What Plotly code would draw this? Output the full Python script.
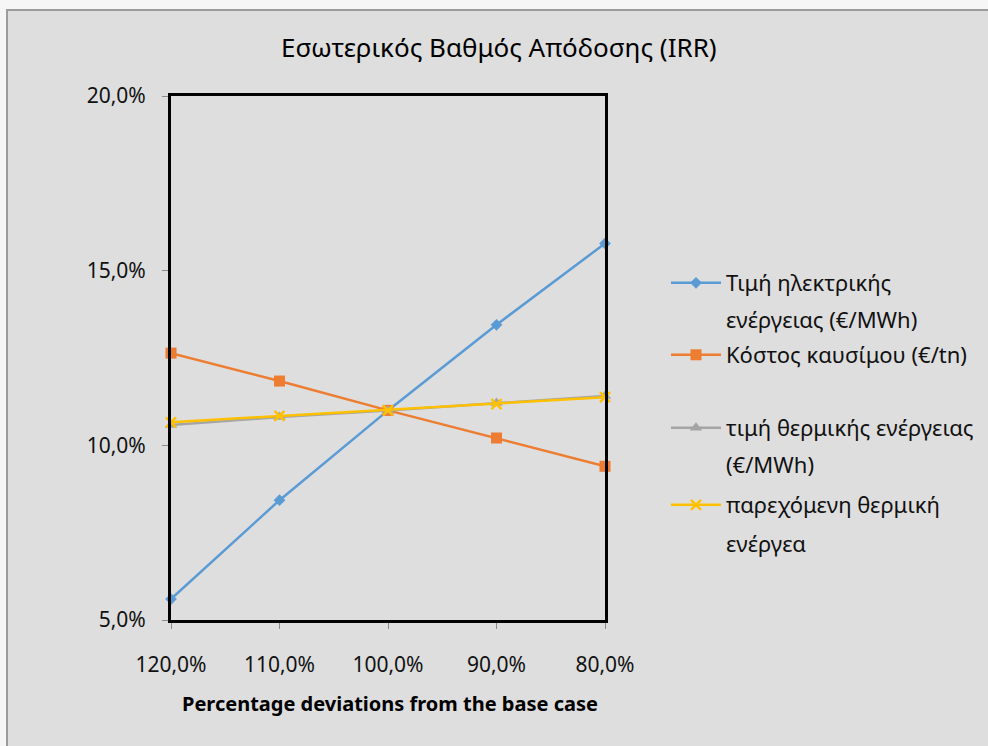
import plotly.graph_objects as go

# Sensitivity of the IRR to deviations from the base case
deviations = ["120,0%", "110,0%", "100,0%", "90,0%", "80,0%"]

electricity_price = [0.0560, 0.0843, 0.1100, 0.1345, 0.1578]
fuel_cost = [0.1264, 0.1184, 0.1100, 0.1021, 0.0940]
heat_price = [0.1058, 0.1081, 0.1100, 0.1121, 0.1141]
heat_supplied = [0.1066, 0.1084, 0.1100, 0.1118, 0.1138]

names = [
    "Τιμή ηλεκτρικής",
    "Κόστος καυσίμου (€/tn)",
    "τιμή θερμικής ενέργειας",
    "παρεχόμενη θερμική",
]
second_lines = ["ενέργειας (€/MWh)", None, "(€/MWh)", "ενέργεα"]

FONT = "Noto Sans"
TEXT = "#111111"
W, H = 988, 746
ML, MR, MT, MB = 171, 383, 96, 126
PW, PH = W - ML - MR, H - MT - MB


def px_x(px):
    return (px - ML) / PW


def px_y(py):
    return (H - MB - py) / PH


series = [
    (electricity_price, "#5b9bd5", dict(symbol="diamond", size=9)),
    (fuel_cost, "#ed7d31", dict(symbol="square", size=11)),
    (heat_price, "#a5a5a5", dict(symbol="triangle-up", size=11)),
    (heat_supplied, "#ffc000", dict(symbol="x-thin", size=10,
                                    line=dict(width=2.5, color="#ffc000"))),
]

# legend rows (pixel centre of the first text line)
legend_rows = [283, 355, 428, 505]
LEGEND_SIZE = 22

fig = go.Figure()
for i, (vals, color, marker) in enumerate(series):
    legend_id = "legend" if i == 0 else f"legend{i + 1}"
    fig.add_trace(go.Scatter(
        x=deviations, y=vals, name=names[i], mode="lines+markers",
        line=dict(color=color, width=2.5),
        marker=dict(color=color, **marker),
        cliponaxis=False, legend=legend_id,
    ))

layout_legends = {}
for i, row in enumerate(legend_rows):
    key = "legend" if i == 0 else f"legend{i + 1}"
    layout_legends[key] = dict(
        xref="container", yref="container",
        x=666 / W, y=1 - row / H, xanchor="left", yanchor="middle",
        bgcolor="rgba(0,0,0,0)", borderwidth=0,
        font=dict(family=FONT, size=LEGEND_SIZE, color=TEXT),
        itemwidth=50, tracegroupgap=0,
    )

annotations = []
for i, text in enumerate(second_lines):
    if text is None:
        continue
    row = legend_rows[i] + (36 if i < 3 else 38)
    annotations.append(dict(
        text=text, xref="paper", yref="paper",
        x=px_x(724), y=px_y(row), xanchor="left", yanchor="middle",
        showarrow=False, font=dict(family=FONT, size=LEGEND_SIZE, color=TEXT),
    ))

# chart title and axis title
annotations.append(dict(
    text="Εσωτερικός Βαθμός Απόδοσης (IRR)", xref="paper", yref="paper",
    x=px_x(499), y=px_y(47), xanchor="center", yanchor="middle",
    showarrow=False, font=dict(family=FONT, size=26, color="#000000"),
))
annotations.append(dict(
    text="<b>Percentage deviations from the base case</b>",
    xref="paper", yref="paper",
    x=px_x(390), y=px_y(703), xanchor="center", yanchor="middle",
    showarrow=False, font=dict(family=FONT, size=20, color="#000000"),
))

shapes = [
    dict(type="rect", xref="paper", yref="paper", layer="below",
         x0=px_x(7), x1=px_x(990), y0=px_y(10), y1=px_y(750),
         fillcolor="#dedede", line=dict(color="#9c9c9c", width=2)),
]

fig.update_layout(
    width=W, height=H,
    margin=dict(l=ML, r=MR, t=MT, b=MB),
    paper_bgcolor="#f6f6f6", plot_bgcolor="#ffffff",
    separators=",.",
    showlegend=True,
    annotations=annotations,
    shapes=shapes,
    **layout_legends,
)

fig.update_xaxes(
    type="category", range=[0, 4], showgrid=False, zeroline=False,
    showline=True, mirror=True, linecolor="#000000", linewidth=3,
    ticks="outside", ticklen=6, tickcolor="#8a8a8a", tickwidth=1,
    ticklabelstandoff=18,
    tickfont=dict(family=FONT, size=21, color=TEXT),
)
fig.update_yaxes(
    range=[0.05, 0.20], dtick=0.05, tick0=0.05, tickformat=".1%",
    showgrid=False, zeroline=False,
    showline=True, mirror=True, linecolor="#000000", linewidth=3,
    ticks="outside", ticklen=6, tickcolor="#8a8a8a", tickwidth=1,
    ticklabelstandoff=12,
    tickfont=dict(family=FONT, size=21, color=TEXT),
)

fig.write_html("out.html")
